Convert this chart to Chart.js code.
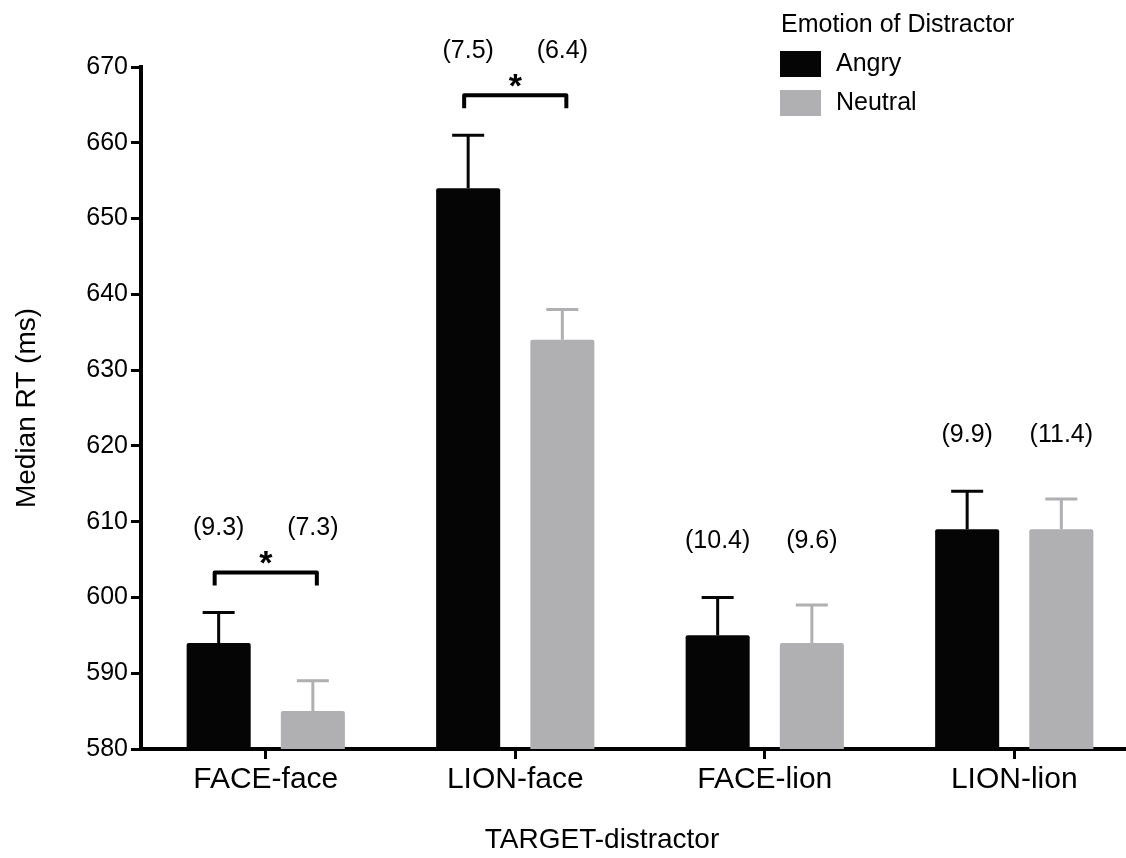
<!DOCTYPE html>
<html>
<head>
<meta charset="utf-8">
<script src="https://cdn.jsdelivr.net/npm/chart.js@4.4.1/dist/chart.umd.min.js"></script>
<style>
  html, body { margin: 0; padding: 0; background: #fff; overflow: hidden; }
  #wrap { width: 1139px; height: 858px; }
</style>
</head>
<body>
<div id="wrap"><canvas id="rtChart" width="1139" height="858"></canvas></div>
<script>
// données
const categories = ['FACE-face', 'LION-face', 'FACE-lion', 'LION-lion'];
const angryRT = [594, 654, 595, 609];
const neutralRT = [585, 634, 594, 609];
const angryErr = [4, 7, 5, 5];
const neutralErr = [4, 4, 5, 4];
const angrySD = ['(9.3)', '(7.5)', '(10.4)', '(9.9)'];
const neutralSD = ['(7.3)', '(6.4)', '(9.6)', '(11.4)'];
const significant = [true, true, false, false];
const yTicks = [580, 590, 600, 610, 620, 630, 640, 650, 660, 670];

const BLACK = '#050505';
const GREY = '#b0b0b2';
const FONT = 'Liberation Sans, Arial, Helvetica, sans-serif';
const errors = [angryErr, neutralErr];
const sdLabels = [angrySD, neutralSD];

// barres d'erreur (vers le haut seulement), crochets et étiquettes
const extrasPlugin = {
    id: 'extras',
    afterDatasetsDraw(chart) {
        const ctx = chart.ctx;
        const y = chart.scales.y;
        const capTop = [];
        ctx.save();
        chart.data.datasets.forEach((ds, d) => {
            const meta = chart.getDatasetMeta(d);
            meta.data.forEach((bar, i) => {
                const top = y.getPixelForValue(ds.data[i]);
                const cap = y.getPixelForValue(ds.data[i] + errors[d][i]);
                capTop[i] = Math.min(capTop[i] ?? Infinity, cap);
                ctx.strokeStyle = ds.backgroundColor;
                ctx.lineWidth = 3;
                ctx.beginPath();
                ctx.moveTo(bar.x, top);
                ctx.lineTo(bar.x, cap);
                ctx.moveTo(bar.x - 16, cap);
                ctx.lineTo(bar.x + 16, cap);
                ctx.stroke();
            });
        });

        const m0 = chart.getDatasetMeta(0).data;
        const m1 = chart.getDatasetMeta(1).data;
        ctx.fillStyle = '#000';
        ctx.textAlign = 'center';
        ctx.textBaseline = 'middle';
        categories.forEach((c, i) => {
            let labelY = capTop[i] - 56;
            if (significant[i]) {
                const by = capTop[i] - 40;
                ctx.strokeStyle = '#000';
                ctx.lineWidth = 4;
                ctx.lineJoin = 'round';
                ctx.beginPath();
                ctx.moveTo(m0[i].x - 4, by + 13);
                ctx.lineTo(m0[i].x - 4, by);
                ctx.lineTo(m1[i].x + 4, by);
                ctx.lineTo(m1[i].x + 4, by + 13);
                ctx.stroke();
                ctx.font = 'bold 34px ' + FONT;
                ctx.fillText('*', (m0[i].x + m1[i].x) / 2, by - 8);
                labelY = capTop[i] - 84;
            }
            ctx.font = '25px ' + FONT;
            ctx.fillText(sdLabels[0][i], m0[i].x, labelY);
            ctx.fillText(sdLabels[1][i], m1[i].x, labelY);
        });
        ctx.restore();
    },
    afterDraw(chart) {
        const ctx = chart.ctx;
        ctx.save();
        ctx.fillStyle = '#000';
        ctx.textBaseline = 'middle';
        ctx.textAlign = 'left';
        ctx.font = '25px ' + FONT;
        ctx.fillText('Emotion of Distractor', 781, 25);
        chart.data.datasets.forEach((ds, d) => {
            const ly = 51 + d * 39;
            ctx.fillStyle = ds.backgroundColor;
            ctx.fillRect(780, ly, 41, 26);
            ctx.fillStyle = '#000';
            ctx.fillText(ds.label, 836, ly + 13);
        });
        ctx.textAlign = 'center';
        ctx.font = '28px ' + FONT;
        ctx.fillText('TARGET-distractor', 602, 840);
        ctx.restore();
    }
};

new Chart(document.getElementById('rtChart'), {
    type: 'bar',
    data: {
        labels: categories,
        datasets: [
            { label: 'Angry', data: angryRT, backgroundColor: BLACK },
            { label: 'Neutral', data: neutralRT, backgroundColor: GREY }
        ]
    },
    options: {
        responsive: false,
        animation: false,
        devicePixelRatio: 1,
        layout: { padding: { top: 67, left: 0, right: 0, bottom: 0 } },
        datasets: {
            bar: { categoryPercentage: 0.755, barPercentage: 0.68, borderRadius: 2, borderSkipped: 'bottom' }
        },
        scales: {
            x: {
                afterFit: s => { s.height = 109; },
                border: { display: true, color: '#000', width: 4 },
                grid: { offset: false, drawOnChartArea: false, drawTicks: true, tickLength: 10, tickWidth: 3, tickColor: '#000', color: '#000' },
                ticks: { color: '#000', font: { family: FONT, size: 30 }, padding: 3 }
            },
            y: {
                min: 580,
                max: 670,
                afterFit: s => { s.width = 141; },
                afterBuildTicks: s => { s.ticks = yTicks.map(v => ({ value: v })); },
                border: { display: true, color: '#000', width: 4 },
                grid: { drawOnChartArea: false, drawTicks: true, tickLength: 10, tickWidth: 3, tickColor: '#000', color: '#000' },
                ticks: { color: '#000', font: { family: FONT, size: 25 }, padding: 3 },
                title: { display: true, text: 'Median RT (ms)', color: '#000', font: { family: FONT, size: 28 }, padding: { top: 10 } }
            }
        },
        plugins: {
            legend: { display: false },
            tooltip: { enabled: false }
        }
    },
    plugins: [extrasPlugin]
});
</script>
</body>
</html>
